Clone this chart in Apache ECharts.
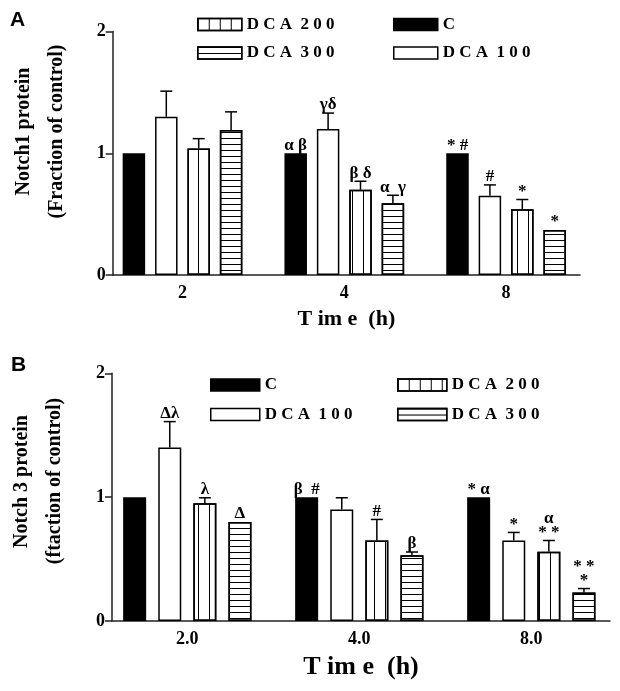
<!DOCTYPE html>
<html>
<head>
<meta charset="utf-8">
<script src="https://cdn.jsdelivr.net/npm/echarts@6/dist/echarts.min.js"></script>
<style>
  html, body { margin: 0; padding: 0; background: #fff; }
  #chart { width: 620px; height: 691px; }
</style>
</head>
<body>
<div id="chart"></div>
<script>
// ---- panel A : Notch1 ----
const timesA = ['2', '4', '8'];
const ctrlA = [1, 1, 1];
const dca100A = [1.30, 1.20, 0.65];
const dca200A = [1.04, 0.70, 0.54];
const dca300A = [1.19, 0.59, 0.37];
const seCtrlA = [0, 0, 0];
const se100A = [0.21, 0.13, 0.09];
const se200A = [0.08, 0.07, 0.08];
const se300A = [0.15, 0.065, 0];
const marksCtrlA = ['', 'α β', '* #'];
const marks100A = ['', 'γδ', '#'];
const marks200A = ['', 'β δ', '*'];
const marks300A = ['', 'α  γ', '*'];

// ---- panel B : Notch 3 ----
const timesB = ['2.0', '4.0', '8.0'];
const ctrlB = [1, 1, 1];
const dca100B = [1.40, 0.90, 0.65];
const dca200B = [0.95, 0.65, 0.56];
const dca300B = [0.80, 0.53, 0.23];
const seCtrlB = [0, 0, 0];
const se100B = [0.21, 0.095, 0.065];
const se200B = [0.045, 0.17, 0.09];
const se300B = [0, 0.027, 0.032];
const marksCtrlB = ['', 'β  #', '* α'];
const marks100B = ['Δλ', '', '*'];
const marks200B = ['λ', '#', 'α\n* *'];
const marks300B = ['Δ', 'β', '* *\n*'];

const names = ['C', 'DCA 100', 'DCA 200', 'DCA 300'];
const SERIF = '"Liberation Serif", "Times New Roman", serif';

const chart = echarts.init(document.getElementById('chart'));

// fill styles: black, white, vertical stripes, horizontal stripes
const styles = [
  { color: '#000', borderColor: '#000', borderWidth: 1.5 },
  { color: '#fff', borderColor: '#000', borderWidth: 1.5 },
  { color: '#fff', borderColor: '#000', borderWidth: 1.5,
    decal: { symbol: 'rect', symbolSize: 1, color: '#000', backgroundColor: 'rgba(0,0,0,0)',
      dashArrayX: [1, 10], dashArrayY: [11, 0] } },
  { color: '#fff', borderColor: '#000', borderWidth: 1.5,
    decal: { symbol: 'rect', symbolSize: 1, color: '#000', backgroundColor: 'rgba(0,0,0,0)',
      dashArrayX: [6, 0], dashArrayY: [1, 5] } }
];

const spaced = n => n.split(' ').map(w => w.split('').join(' ')).join('  ');

function bars(vals, axis, bw, gap) {
  return vals.map((v, k) => ({
    name: names[k],
    type: 'bar',
    xAxisIndex: axis, yAxisIndex: axis,
    data: v,
    barWidth: bw,
    barGap: gap,
    itemStyle: styles[k],
    emphasis: { disabled: true },
    z: 2
  }));
}

// error bars + significance marks, shifted to each bar's slot
function errors(vals, ses, marks, axis, step) {
  const data = [];
  const text = [];
  vals.forEach((v, k) => v.forEach((y, i) => {
    data.push([i, k, y, ses[k][i]]);
    text.push(marks[k][i]);
  }));
  return {
    type: 'custom',
    xAxisIndex: axis, yAxisIndex: axis,
    encode: { x: 0, y: 2 },
    data: data,
    clip: false,
    z: 5,
    renderItem: (params, api) => {
      const cat = api.value(0), k = api.value(1), y = api.value(2), se = api.value(3);
      const p = api.coord([cat, y]);
      const x = p[0] + (k - 1.5) * step;
      const out = [];
      let top = p[1];
      if (se > 0) {
        top = api.coord([cat, y + se])[1];
        out.push({ type: 'line', shape: { x1: x, y1: p[1], x2: x, y2: top }, style: { stroke: '#000', lineWidth: 1.5 } });
        out.push({ type: 'line', shape: { x1: x - 6, y1: top, x2: x + 6, y2: top }, style: { stroke: '#000', lineWidth: 1.5 } });
      }
      const t = text[params.dataIndex];
      if (t) {
        out.push({ type: 'text', x: x, y: top - 1,
          style: { text: t, align: 'center', verticalAlign: 'bottom', fill: '#000',
            fontFamily: SERIF, fontWeight: 'bold', fontSize: 17, lineHeight: 14 } });
      }
      return { type: 'group', children: out };
    }
  };
}

const catAxis = (grid, data) => ({
  type: 'category', gridIndex: grid, data: data,
  axisLine: { show: false }, axisTick: { show: false },
  axisLabel: { color: '#000', fontFamily: SERIF, fontWeight: 'bold', fontSize: 18, margin: 9 }
});
const lineAxis = (grid, name, size, gap) => ({
  type: 'value', gridIndex: grid, min: 0, max: 1,
  axisLine: { lineStyle: { color: '#222', width: 1.5 } },
  axisTick: { show: false }, axisLabel: { show: false }, splitLine: { show: false },
  name: name, nameLocation: 'middle', nameGap: gap,
  nameTextStyle: { color: '#000', fontFamily: SERIF, fontWeight: 'bold', fontSize: size }
});
const hiddenY = grid => ({ type: 'value', gridIndex: grid, min: 0, max: 2, show: false });
const valueY = grid => ({
  type: 'value', gridIndex: grid, min: 0, max: 2, interval: 1,
  axisLine: { show: true, lineStyle: { color: '#222', width: 1.5 } },
  axisTick: { show: true, inside: false, length: 7, lineStyle: { color: '#222', width: 1.5 } },
  axisLabel: { color: '#000', fontFamily: SERIF, fontWeight: 'bold', fontSize: 18, margin: 7 },
  splitLine: { show: false }
});

const legendItem = (name, left, top, w) => ({
  data: [name], left: left, top: top, padding: 0,
  icon: 'rect', itemWidth: w, itemHeight: 12, itemGap: 0,
  selectedMode: false,
  itemStyle: { borderColor: '#000', borderWidth: 1.5 },
  formatter: spaced,
  textStyle: { color: '#000', fontFamily: SERIF, fontWeight: 'bold', fontSize: 17, lineHeight: 16 }
});

const titleText = (text, x, y, size, rot, family) => ({
  type: 'text', x: x, y: y, rotation: rot,
  style: { text: text, align: 'center', verticalAlign: 'middle', fill: '#000',
    fontFamily: family || SERIF, fontWeight: 'bold', fontSize: size }
});

chart.setOption({
  animation: false,
  backgroundColor: '#fff',
  grid: [
    { left: 101.6, top: 31.5, width: 485.4, height: 243.5, outerBoundsMode: 'none' },
    { left: 112.7, top: 31.5, width: 467.3, height: 243.5, outerBoundsMode: 'none' },
    { left: 101.3, top: 373.3, width: 516, height: 247.7, outerBoundsMode: 'none' },
    { left: 112, top: 373.3, width: 498, height: 247.7, outerBoundsMode: 'none' }
  ],
  xAxis: [
    catAxis(0, timesA),
    lineAxis(1, 'T im e  (h)', 22, 33),
    catAxis(2, timesB),
    lineAxis(3, 'T im e  (h)', 26, 33)
  ],
  yAxis: [hiddenY(0), valueY(1), hiddenY(2), valueY(3)],
  legend: [
    legendItem('DCA 200', 197, 16, 44),
    legendItem('C', 393, 16, 44),
    legendItem('DCA 300', 197, 44.5, 44),
    legendItem('DCA 100', 393, 44.5, 44),
    legendItem('C', 210, 376.5, 49),
    legendItem('DCA 200', 397, 376.5, 49),
    legendItem('DCA 100', 210, 406, 49),
    legendItem('DCA 300', 397, 406, 49)
  ],
  graphic: [
    titleText('A', 17.5, 20, 21, 0, '"Liberation Sans", Arial, sans-serif'),
    titleText('B', 18.5, 365.5, 21, 0, '"Liberation Sans", Arial, sans-serif'),
    titleText('Notch1 protein', 24, 131.5, 20, Math.PI / 2),
    titleText('(Fraction of control)', 57, 131.5, 20, Math.PI / 2),
    titleText('Notch 3 protein', 22, 481.5, 20, Math.PI / 2),
    titleText('(ftaction of control)', 55, 481, 20, Math.PI / 2)
  ],
  series: [
    ...bars([ctrlA, dca100A, dca200A, dca300A], 0, 22.5, '44%'),
    errors([ctrlA, dca100A, dca200A, dca300A], [seCtrlA, se100A, se200A, se300A],
      [marksCtrlA, marks100A, marks200A, marks300A], 0, 32.4),
    ...bars([ctrlB, dca100B, dca200B, dca300B], 2, 23, '52.6%'),
    errors([ctrlB, dca100B, dca200B, dca300B], [seCtrlB, se100B, se200B, se300B],
      [marksCtrlB, marks100B, marks200B, marks300B], 2, 35.1)
  ]
});
</script>
</body>
</html>
